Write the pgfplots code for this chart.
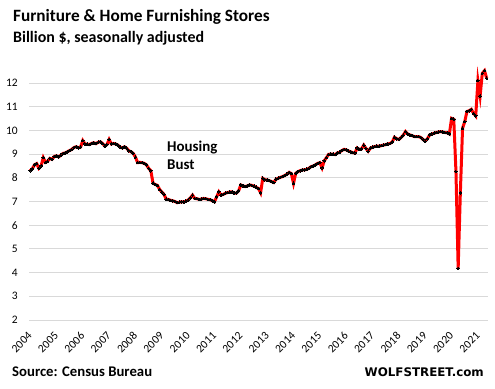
\documentclass[border=0pt]{standalone}
\usepackage{pgfplots}
\pgfplotsset{compat=1.18}
\usepackage{pgfplotstable}
\usepackage{fontspec}
\setmainfont{Carlito}
\newfontfamily\wolf{DejaVu Sans}
\pgfplotstableread{
v
8.30
8.38
8.55
8.60
8.40
8.50
8.85
8.65
8.70
8.82
8.78
8.90
8.93
8.88
8.95
9.03
9.05
9.10
9.15
9.20
9.28
9.31
9.27
9.30
9.57
9.43
9.42
9.40
9.45
9.48
9.44
9.50
9.52
9.45
9.34
9.40
9.62
9.43
9.45
9.43
9.38
9.30
9.26
9.31
9.25
9.14
9.10
9.03
8.87
8.64
8.65
8.64
8.61
8.55
8.40
8.30
7.77
7.72
7.68
7.51
7.40
7.30
7.10
7.09
7.05
7.03
7.00
6.95
6.97
6.99
6.98
7.02
7.06
7.15
7.27
7.13
7.12
7.09
7.10
7.13
7.12
7.09
7.08
7.03
6.99
7.20
7.41
7.27
7.30
7.35
7.38
7.40
7.41
7.35
7.36
7.45
7.70
7.66
7.63
7.66
7.70
7.68
7.65
7.60
7.55
7.37
7.98
7.92
7.91
7.88
7.84
7.80
7.94
7.98
8.02
8.05
8.10
8.15
8.23
8.18
7.77
8.19
8.26
8.30
8.33
8.33
8.36
8.40
8.47
8.50
8.55
8.61
8.64
8.42
8.72
8.85
8.99
9.00
9.00
8.98
9.05
9.08
9.15
9.20
9.18
9.13
9.10
9.06
9.05
9.26
9.20
9.22
9.38
9.24
9.12
9.25
9.29
9.32
9.34
9.33
9.36
9.38
9.40
9.43
9.45
9.52
9.71
9.65
9.62
9.70
9.80
9.95
9.85
9.81
9.78
9.74
9.74
9.74
9.70
9.62
9.55
9.65
9.81
9.85
9.88
9.91
9.93
9.95
9.93
9.91
9.90
9.85
10.51
10.47
8.26
4.18
7.37
10.09
10.37
10.80
10.83
10.89
10.72
10.61
12.10
11.45
12.41
12.52
12.20
}\furn
\begin{document}
\begin{tikzpicture}[x=1bp,y=1bp]
\useasboundingbox (0,0) rectangle (495,388);
\begin{axis}[
  at={(29bp,68bp)}, anchor=south west,
  scale only axis, width=459bp, height=251.2bp,
  xmin=-0.5, xmax=208.6, ymin=2, ymax=12.6,
  axis line style={draw=none},
  major tick length=0pt,
  ytick={2,3,...,12},
  ymajorgrids,
  grid style={draw=black!15, line width=0.9bp},
  xtick={0,12,...,204},
  xticklabels={2004,2005,2006,2007,2008,2009,2010,2011,2012,2013,2014,2015,2016,2017,2018,2019,2020,2021},
  /pgf/number format/assume math mode=true,
  ticklabel style={font=\fontsize{11.5}{12}\selectfont},
  xticklabel style={yshift=-14bp, rotate=45, anchor=east, inner sep=0pt},
  yticklabel style={anchor=east, inner sep=0pt, xshift=-11bp},
  clip=false,
]
\addplot[red, line width=3bp, mark=*, mark size=1.3bp,
  mark options={draw=black, fill=black, line width=0pt}]
  table[x expr=\coordindex, y=v]{\furn};
\end{axis}
\node[anchor=base west, inner sep=0pt] at (13,366.3) {\fontsize{17.3}{20}\selectfont\bfseries Furniture \& Home Furnishing Stores};
\node[anchor=base west, inner sep=0pt] at (13,345.3) {\fontsize{16}{18}\selectfont\bfseries Billion \$, seasonally adjusted};
\node[anchor=base west, inner sep=0pt] at (167,237) {\fontsize{15}{16}\selectfont\bfseries Housing};
\node[anchor=base west, inner sep=0pt] at (167,219) {\fontsize{15}{16}\selectfont\bfseries Bust};
\node[anchor=base west, inner sep=0pt] at (12,12) {\fontsize{14.8}{16}\selectfont\bfseries Source: Census Bureau};
\node[anchor=base east, inner sep=0pt] at (484,12) {\wolf\fontsize{11.9}{14}\selectfont\bfseries WOLFSTREET.com};
\end{tikzpicture}
\end{document}
